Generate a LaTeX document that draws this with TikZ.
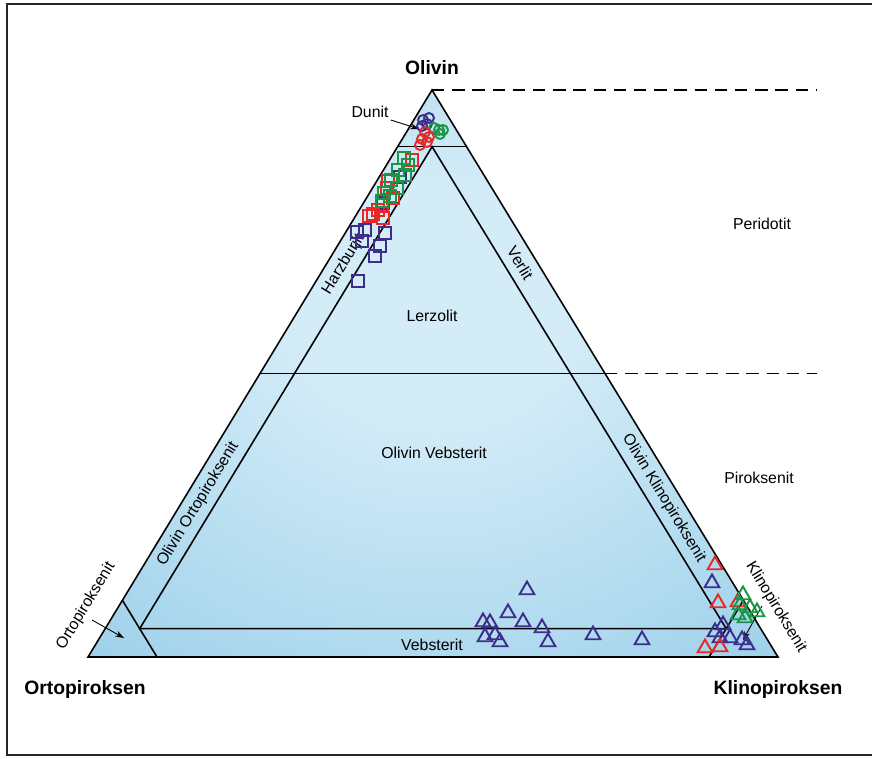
\documentclass[tikz,border=0pt]{standalone}
\usepackage{fontspec}
\setmainfont{Liberation Sans}
\usetikzlibrary{calc}
\usetikzlibrary{positioning}
\usetikzlibrary{shapes.geometric}
\usetikzlibrary{arrows.meta}
\definecolor{mkpurple}{RGB}{62,45,140}
\definecolor{mkred}{RGB}{232,40,40}
\definecolor{mkgreen}{RGB}{25,150,70}
\definecolor{fieldblue}{RGB}{132,196,228}
\definecolor{fieldlight}{RGB}{212,236,248}
\pgfdeclareradialshading{fieldshade}{\pgfpoint{0bp}{8bp}}{color(0bp)=(fieldlight); color(10bp)=(fieldlight); color(50bp)=(fieldblue)}
\tikzset{
        field line/.style={line width=0.9pt},
        field label/.style={font=\fontsize{9}{10}\selectfont, inner sep=1pt},
        corner label/.style={font=\fontsize{11}{12}\selectfont\bfseries},
        band left/.style={field label, rotate=58.7},
        band right/.style={field label, rotate=-58.7},
        pointer/.style={-{Stealth[length=5pt, width=3.5pt]}, line width=0.5pt},
        sample/.style={draw, line width=1.1pt, inner sep=0pt},
        samplecirc/.style={sample, circle, minimum size=0.2cm},
        samplesq/.style={sample, rectangle, minimum size=0.23cm},
        sampletri/.style={sample, regular polygon, regular polygon sides=3, minimum size=0.34cm},
}
\begin{document}
\begin{tikzpicture}[x=0.02cm, y=-0.02cm]
      \useasboundingbox (0,0) rectangle (872,758);
      % frame
      \draw[line width=1.6pt, black!85] (7,4) rectangle (884,755);

      % CORNERS
      \coordinate (ol) at (432,90);
      \coordinate (opx) at (88,657);
      \coordinate (cpx) at (778,657);
      \coordinate (dashend) at (817,0);
      \shade[shading=fieldshade] (ol) -- (opx) -- (cpx) -- cycle;

      % FIELD BOUNDARIES
      \coordinate (du-l) at ($0.9*(ol)+0.1*(opx)$);
      \coordinate (du-r) at ($0.9*(ol)+0.1*(cpx)$);
      \coordinate (in-top) at ($0.9*(ol)+0.05*(opx)+0.05*(cpx)$);
      \coordinate (in-l) at ($0.05*(ol)+0.9*(opx)+0.05*(cpx)$);
      \coordinate (in-r) at ($0.05*(ol)+0.05*(opx)+0.9*(cpx)$);
      \coordinate (hf-l) at ($0.5*(ol)+0.5*(opx)$);
      \coordinate (hf-r) at ($0.5*(ol)+0.5*(cpx)$);
      \coordinate (ot-top) at ($0.1*(ol)+0.9*(opx)$);
      \coordinate (ot-bot) at ($0.9*(opx)+0.1*(cpx)$);
      \coordinate (kl-top) at ($0.1*(ol)+0.9*(cpx)$);
      \coordinate (kl-bot) at ($0.1*(opx)+0.9*(cpx)$);
      \draw[field line] (du-l) -- (du-r);
      \draw[field line] (hf-l) -- (hf-r);
      \draw[field line] (in-l) -- (in-top) -- (in-r) -- cycle;
      \draw[field line] (ot-top) -- (ot-bot);
      \draw[field line] (kl-top) -- (kl-bot);
      \draw[field line] (ol) -- (opx) -- (cpx) -- cycle;
      % dashed guides
      \draw[field line, dash pattern=on 7pt off 4.5pt] (ol) -- (ol -| dashend);
      \draw[field line, dash pattern=on 7pt off 4.5pt] (hf-r) -- (hf-r -| dashend);

      % LABELS
      \node[corner label] (olname) at (432,68) {Olivin};
      \node[corner label] (opxname) at (85,689) {Ortopiroksen};
      \node[corner label] (cpxname) at (778,689) {Klinopiroksen};
      \node[field label] (peridotit) at (762,224) {Peridotit};
      \node[field label] (piroksenit) at (759,478) {Piroksenit};
      \node[field label] (lerzolit) at (432,316) {Lerzolit};
      \node[field label] (olvebs) at (434,453) {Olivin Vebsterit};
      \node[field label] (vebs) at (432,645) {Vebsterit};
      % band labels, centred in the 5% bands
      \node[band left] (harz) at ($0.693*(ol)+0.282*(opx)+0.025*(cpx)$) {Harzburjit};
      \node[band right] (verlit) at ($0.695*(ol)+0.025*(opx)+0.28*(cpx)$) {Verlit};
      \node[band left] (olorto) at ($0.27*(ol)+0.705*(opx)+0.025*(cpx)$) {Olivin Ortopiroksenit};
      \node[band right] (olklino) at ($0.28*(ol)+0.025*(opx)+0.695*(cpx)$) {Olivin Klinopiroksenit};
      \node[band left] (orto) at (86,606) {Ortopiroksenit};
      \node[band right] (klino) at (776,607) {Klinopiroksenit};
      \node[field label] (dunit) at (370,112) {Dunit};

      % pointers
      \coordinate (dunit-tip) at (419,129);
      \coordinate (orto-tail) at (92,620);
      \coordinate (orto-tip) at (124,638);
      \coordinate (klino-tail) at (762,606);
      \coordinate (klino-tip) at (743,640);
      \draw[pointer] (dunit.south east) -- (dunit-tip);
      \draw[pointer] (orto-tail) -- (orto-tip);
      \draw[pointer] (klino-tail) -- (klino-tip);

      % SAMPLES
      % dunit
      \foreach \x/\y [count=\i] in {423/120, 429/118, 427/124, 422/126}
        \node[samplecirc, mkpurple] (dp\i) at (\x,\y) {};
      \foreach \x/\y [count=\i] in {434/128, 439/130, 443/130, 440/134}
        \node[samplecirc, mkgreen] (dg\i) at (\x,\y) {};
      \foreach \x/\y [count=\i] in {425/132, 429/137, 422/139, 420/145, 427/142}
        \node[samplecirc, mkred] (dr\i) at (\x,\y) {};
      % harzburjit
      \foreach \x/\y [count=\i] in {357/232, 365/230, 362/241, 385/233, 380/246, 375/256, 358/281, 383/203, 400/177}
        \node[samplesq, mkpurple] (hp\i) at (\x,\y) {};
      \foreach \x/\y [count=\i] in {412/160, 388/181, 393/198, 387/188, 373/214, 369/216, 383/218, 382/205, 378/210}
        \node[samplesq, mkred] (hr\i) at (\x,\y) {};
      \foreach \x/\y [count=\i] in {404/158, 398/170, 405/175, 391/180, 397/188, 384/193, 390/196, 382/201, 408/165}
        \node[samplesq, mkgreen] (hg\i) at (\x,\y) {};
      % vebsterit
      \foreach \x/\y [count=\i] in {527/590, 508/613, 483/622, 490/623, 523/622, 542/628, 485/637, 495/635, 500/642, 548/642, 593/635, 642/640, 712/583, 723/625, 715/632, 720/638, 730/638, 742/640, 747/645}
        \node[sampletri, mkpurple] (vp\i) at (\x,\y) {};
      \foreach \x/\y [count=\i] in {715/565, 718/603, 738/602, 705/648, 720/647}
        \node[sampletri, mkred] (vr\i) at (\x,\y) {};
      \foreach \x/\y [count=\i] in {743/595, 740/605, 750/608, 757/612, 738/615, 745/618}
        \node[sampletri, mkgreen] (vg\i) at (\x,\y) {};
\end{tikzpicture}
\end{document}
